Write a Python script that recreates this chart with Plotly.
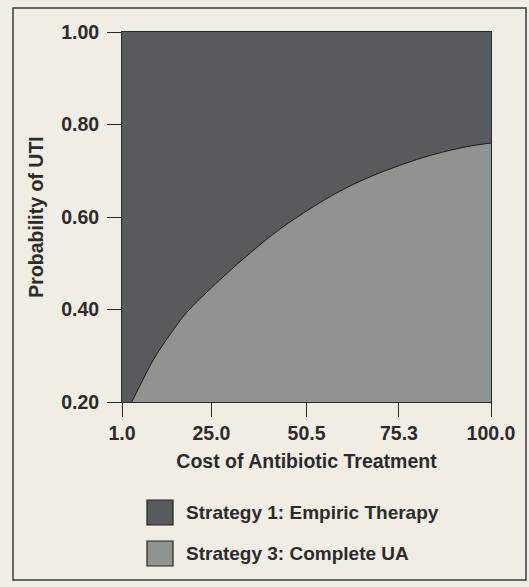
import plotly.graph_objects as go

# ---- data ----
strategy_names = ["Strategy 1: Empiric Therapy", "Strategy 3: Complete UA"]
# threshold curve separating the two preferred strategies
cost_values = [3.6, 5.8, 9.4, 13.9, 18.4, 25.0, 34.5, 43.4, 52.3, 58.6, 66.7, 75.6, 84.5, 93.5, 100.0]
prob_values = [0.200, 0.235, 0.291, 0.346, 0.394, 0.447, 0.516, 0.574, 0.622, 0.652, 0.684, 0.712, 0.735, 0.752, 0.760]
x_tick_vals = [1.0, 25.0, 50.5, 75.3, 100.0]
x_tick_text = ["1.0", "25.0", "50.5", "75.3", "100.0"]
y_tick_vals = [0.20, 0.40, 0.60, 0.80, 1.00]
y_tick_text = ["0.20", "0.40", "0.60", "0.80", "1.00"]
X_MIN, X_MAX = 1.0, 100.0
Y_MIN, Y_MAX = 0.20, 1.00

# ---- styling ----
BG = "#f0ede5"
DARK = "#575b5c"
LIGHT = "#8f9490"
TXT = "#2b2b2b"
FONT = "Liberation Sans, Arial, sans-serif"

W, H = 529, 587
L, R, T, B = 122, 38, 32, 185
pw, ph = W - L - R, H - T - B

def px(xpix):
    return (xpix - L) / pw

def py(ypix):
    return (H - B - ypix) / ph

fig = go.Figure()

# Strategy 1 region (whole plotting area)
fig.add_trace(go.Scatter(
    x=[X_MIN, X_MIN, X_MAX, X_MAX, X_MIN],
    y=[Y_MIN, Y_MAX, Y_MAX, Y_MIN, Y_MIN],
    fill="toself", fillcolor=DARK, mode="lines",
    line=dict(width=0, color=DARK), name=strategy_names[0],
    hoverinfo="skip", showlegend=False))

# Strategy 3 region (below the threshold curve) with its boundary line
fig.add_trace(go.Scatter(
    x=cost_values, y=prob_values,
    fill="tozeroy", fillcolor=LIGHT, mode="lines",
    line=dict(width=1, color="#1a1a1a", shape="spline", smoothing=1.0),
    name=strategy_names[1], hoverinfo="skip", showlegend=False))

axis_common = dict(
    showgrid=False, zeroline=False, showline=True, linecolor="#2a2a2a",
    linewidth=1, mirror=True, ticks="outside", ticklen=14, tickwidth=1,
    tickcolor="#2a2a2a",
    tickfont=dict(family=FONT, size=19.5, color=TXT),
)

fig.update_xaxes(range=[X_MIN, X_MAX], tickvals=x_tick_vals,
                 ticktext=[f"<b>{t}</b>" for t in x_tick_text],
                 title=dict(text="<b>Cost of Antibiotic Treatment</b>",
                            font=dict(family=FONT, size=19.5, color=TXT), standoff=10),
                 **axis_common)
fig.update_yaxes(range=[Y_MIN, Y_MAX], tickvals=y_tick_vals,
                 ticktext=[f"<b>{t}</b>" for t in y_tick_text],
                 title=dict(text="<b>Probability of UTI</b>",
                            font=dict(family=FONT, size=19.5, color=TXT), standoff=12),
                 ticklabelstandoff=4,
                 **axis_common)

shapes = [
    # outer frame
    dict(type="rect", xref="paper", yref="paper",
         x0=px(13), x1=px(526), y0=py(580), y1=py(8),
         line=dict(color="#3a3a3a", width=1.5), fillcolor="rgba(0,0,0,0)", layer="below"),
]
annotations = []
legend_rows = [(500, 525, DARK), (541, 566, LIGHT)]
for name, (top, bot, col) in zip(strategy_names, legend_rows):
    shapes.append(dict(type="rect", xref="paper", yref="paper",
                       x0=px(147), x1=px(173), y0=py(bot), y1=py(top),
                       fillcolor=col, line=dict(color="#222222", width=1.2)))
    annotations.append(dict(xref="paper", yref="paper", x=px(184), y=py((top + bot) / 2),
                            xanchor="left", yanchor="middle", showarrow=False,
                            text=f"<b>{name}</b>",
                            font=dict(family=FONT, size=19, color=TXT)))

fig.update_layout(
    width=W, height=H,
    margin=dict(l=L, r=R, t=T, b=B),
    paper_bgcolor=BG, plot_bgcolor=DARK,
    shapes=shapes, annotations=annotations,
    showlegend=False,
)

fig.write_html("out.html", config={"displayModeBar": False},
               post_script="document.body.style.margin='0px';document.body.style.overflow='hidden';")
